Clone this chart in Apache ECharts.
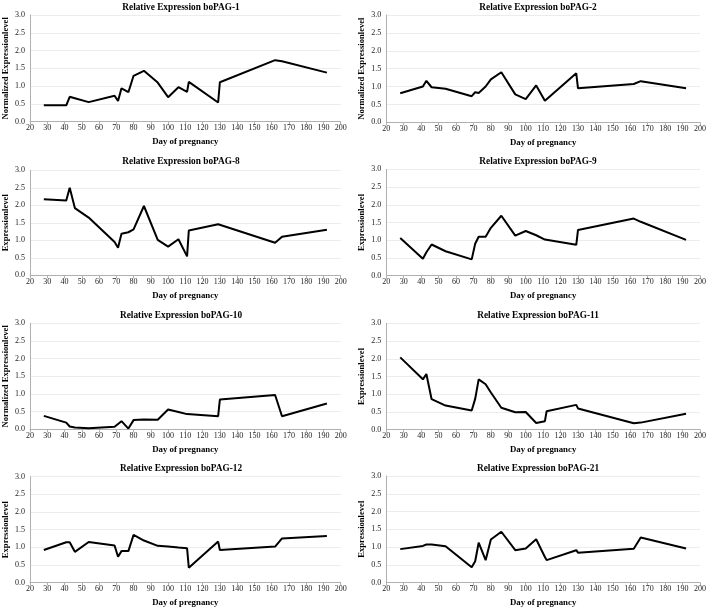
<!DOCTYPE html>
<html>
<head>
<meta charset="utf-8">
<script src="https://cdn.jsdelivr.net/npm/echarts@6/dist/echarts.min.js"></script>
<style>
  html, body { margin: 0; padding: 0; background: #fff; }
  #main { width: 709px; height: 608px; }
</style>
</head>
<body>
<div id="main"></div>
<script>
// sampling days (same for every gene)
const days = [28, 41, 43, 46, 54, 69, 71, 73, 77, 80, 86, 94, 100, 106, 111, 112, 129, 130, 162, 166, 192]

const pag1 = [0.46, 0.46, 0.70, 0.66, 0.55, 0.73, 0.58, 0.94, 0.83, 1.29, 1.43, 1.10, 0.69, 0.97, 0.84, 1.12, 0.54, 1.11, 1.73, 1.70, 1.38]
const pag2 = [0.81, 1.00, 1.16, 0.98, 0.94, 0.73, 0.84, 0.82, 1.00, 1.20, 1.40, 0.78, 0.65, 1.03, 0.60, 0.57, 1.37, 0.95, 1.07, 1.15, 0.95]
const pag8 = [2.17, 2.14, 2.50, 1.92, 1.65, 0.95, 0.79, 1.19, 1.23, 1.31, 1.98, 1.01, 0.82, 1.03, 0.54, 1.28, 1.46, 1.47, 0.93, 1.10, 1.30]
const pag9 = [1.06, 0.48, 0.66, 0.88, 0.69, 0.46, 0.90, 1.10, 1.10, 1.35, 1.69, 1.13, 1.26, 1.14, 1.02, 1.01, 0.87, 1.29, 1.61, 1.52, 1.01]
const pag10 = [0.38, 0.19, 0.08, 0.05, 0.03, 0.07, 0.15, 0.23, 0.02, 0.26, 0.28, 0.27, 0.56, 0.49, 0.43, 0.48, 0.37, 0.84, 0.97, 0.37, 0.73]
const pag11 = [2.04, 1.42, 1.57, 0.86, 0.68, 0.54, 0.87, 1.42, 1.28, 1.05, 0.62, 0.49, 0.50, 0.19, 0.24, 0.52, 0.70, 0.60, 0.18, 0.20, 0.45]
const pag12 = [0.92, 1.14, 1.14, 0.87, 1.15, 1.05, 0.73, 0.89, 0.89, 1.35, 1.19, 1.04, 1.02, 0.99, 0.97, 0.42, 1.16, 0.92, 1.02, 1.25, 1.32]
const pag21 = [0.94, 1.03, 1.07, 1.07, 1.02, 0.43, 0.60, 1.12, 0.63, 1.21, 1.43, 0.91, 0.96, 1.22, 0.72, 0.63, 0.91, 0.84, 0.95, 1.27, 0.96]

const titles = ['Relative Expression boPAG-1', 'Relative Expression boPAG-2', 'Relative Expression boPAG-8', 'Relative Expression boPAG-9',
  'Relative Expression boPAG-10', 'Relative Expression boPAG-11', 'Relative Expression boPAG-12', 'Relative Expression boPAG-21']
const yNames = ['Normalized Expressionlevel', 'Normalized Expressionlevel', 'Expressionlevel', 'Expressionlevel',
  'Normalized Expressionlevel', 'Expressionlevel', 'Expressionlevel', 'Expressionlevel']
const seriesData = [pag1, pag2, pag8, pag9, pag10, pag11, pag12, pag21]

// panel boxes [left, top, width, height, titleTop]
const boxes = [
  [27.7, 15, 313, 106.7, -1.5],
  [386.3, 15, 316.7, 107.3, -1.5],
  [27, 170.3, 313.7, 105, 152],
  [386.3, 169.3, 316.7, 106.4, 152],
  [27, 323.3, 313.7, 106, 306],
  [386.3, 323.3, 316.7, 106.4, 306],
  [27, 476.7, 313.7, 106.3, 459.5],
  [386.3, 476, 316.7, 107.3, 459]
]

const font = 'Liberation Serif'
var myChart = echarts.init(document.getElementById('main'))

var grid = [], xAxis = [], yAxis = [], series = [], title = []
boxes.forEach((b, i) => {
  grid.push({ left: b[0], top: b[1], width: b[2], height: b[3] })
  title.push({
    text: titles[i],
    left: (i % 2 == 0 ? 176 : 533),
    top: b[4],
    textAlign: 'center',
    textStyle: { fontFamily: font, fontWeight: 'bold', fontSize: 9.3, color: '#000' }
  })
  xAxis.push({
    type: 'value', gridIndex: i, min: 20, max: 200, interval: 10,
    name: 'Day of pregnancy', nameLocation: 'middle', nameGap: 15.5,
    nameTextStyle: { fontFamily: font, fontWeight: 'bold', fontSize: 8.8, color: '#000' },
    axisLine: { lineStyle: { color: '#b0b0b0', width: 1 } },
    axisTick: { show: true, length: 3, lineStyle: { color: '#b0b0b0' } },
    axisLabel: { fontFamily: font, fontSize: 8, color: '#222', margin: 2.5 },
    splitLine: { show: false }
  })
  yAxis.push({
    type: 'value', gridIndex: i, min: 0, max: 3, interval: 0.5,
    name: yNames[i], nameLocation: 'middle', nameGap: 20,
    nameTextStyle: { fontFamily: font, fontWeight: 'bold', fontSize: 8.6, color: '#000' },
    axisLine: { show: true, lineStyle: { color: '#b0b0b0', width: 1 } },
    axisTick: { show: false },
    axisLabel: { fontFamily: font, fontSize: 8, color: '#222', margin: 5, formatter: (v) => v.toFixed(1) },
    splitLine: { lineStyle: { color: '#ececec', width: 1 } }
  })
  series.push({
    type: 'line', xAxisIndex: i, yAxisIndex: i,
    data: days.map((d, k) => [d, seriesData[i][k]]),
    symbol: 'none', silent: true,
    lineStyle: { color: '#000', width: 2 }
  })
})

const option = {
  backgroundColor: '#fff',
  animation: false,
  title: title,
  grid: grid,
  xAxis: xAxis,
  yAxis: yAxis,
  series: series
}
myChart.setOption(option)
</script>
</body>
</html>
